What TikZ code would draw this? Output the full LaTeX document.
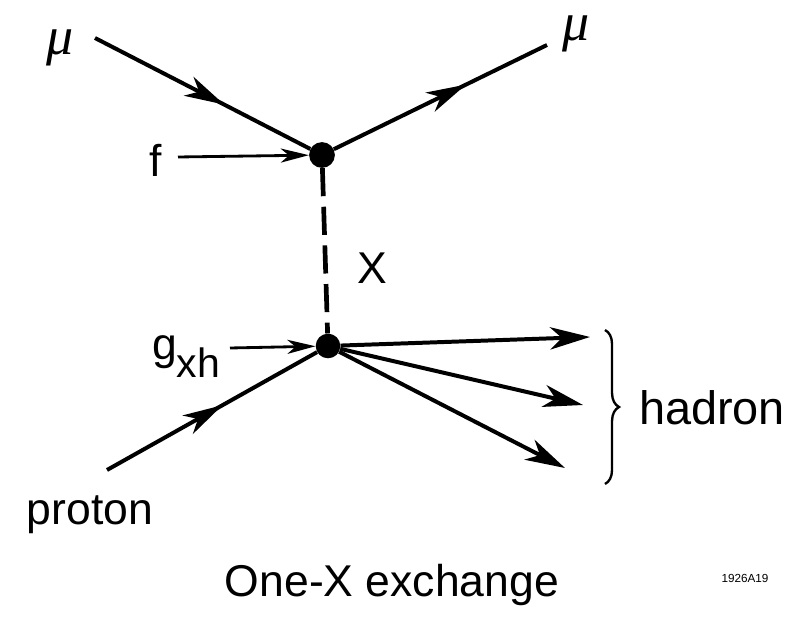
\documentclass[tikz,border=0pt]{standalone}
\usepackage{fontspec}
\setmainfont{Liberation Sans}
\newfontfamily\mufont{Liberation Serif}
\usetikzlibrary{arrows.meta,decorations.markings,decorations.pathreplacing}

\begin{document}
\begin{tikzpicture}[
  x=0.03cm,y=-0.03cm,
  fline/.style={line width=3.4pt},
  midarr/.style={fline,decoration={markings,mark=at position #1 with {\arrow{Stealth[length=34pt,width=18pt,inset=10pt]}}},postaction={decorate}},
  arr/.style={fline,-{Stealth[length=34pt,width=19pt,inset=10pt]}},
  smallarr/.style={line width=2.4pt,-{Stealth[length=24pt,width=12pt,inset=7pt]}},
  vtx/.style={circle,fill=black,inner sep=0pt,minimum size=#1},
  lbl/.style={font=\fontsize{38}{44}\selectfont,inner sep=0pt},
  mulbl/.style={font=\mufont\itshape\fontsize{46}{50}\selectfont,inner sep=0pt}
]
\useasboundingbox (0,0) rectangle (803,629);
% vertices
\node[vtx=22pt] (top) at (322,155) {};
\node[vtx=21pt] (bot) at (328,346) {};
% free ends
\coordinate (muin) at (95,38);
\coordinate (muout) at (547,45);
\coordinate (fin) at (178,157);
\coordinate (gin) at (230,348);
\coordinate (pin) at (107,470);
\coordinate (hA) at (590,337);
\coordinate (hB) at (583,405);
\coordinate (hC) at (565,468);
\coordinate (brtop) at (605,330);
\coordinate (brbot) at (605,484);
% labels
\node[mulbl] (muinlbl) at (60,48) {μ};
\node[mulbl] (muoutlbl) at (576,34) {μ};
\node[lbl] (flbl) at (156,160) {f};
\node[lbl] (xlbl) at (372,268) {X};
\node[lbl,anchor=base west] (glbl) at (152,360) {g\raisebox{-15pt}{\fontsize{35}{40}\selectfont xh}};
\node[lbl] (plbl) at (90,515) {proton};
\node[lbl,font=\fontsize{40}{44}\selectfont] (hlbl) at (712,408) {hadron};
\node[lbl] (title) at (392,585) {One-X exchange};
\node[font=\fontsize{10}{12}\selectfont,inner sep=0pt] (tag) at (745,578) {1926A19};
% lines
\draw[midarr=0.6] (muin) -- (top);
\draw[midarr=0.62] (top) -- (muout);
\draw[smallarr] (fin) -- (top);
\draw[line width=4pt,dash pattern=on 24pt off 9pt] (top) -- (bot);
\draw[smallarr] (gin) -- (bot);
\draw[midarr=0.55] (pin) -- (bot);
\draw[arr] (bot) -- (hA);
\draw[arr] (bot) -- (hB);
\draw[arr] (bot) -- (hC);
\draw[line width=2pt,decorate,decoration={brace,amplitude=12pt}] (brtop) -- (brbot);
\end{tikzpicture}
\end{document}
